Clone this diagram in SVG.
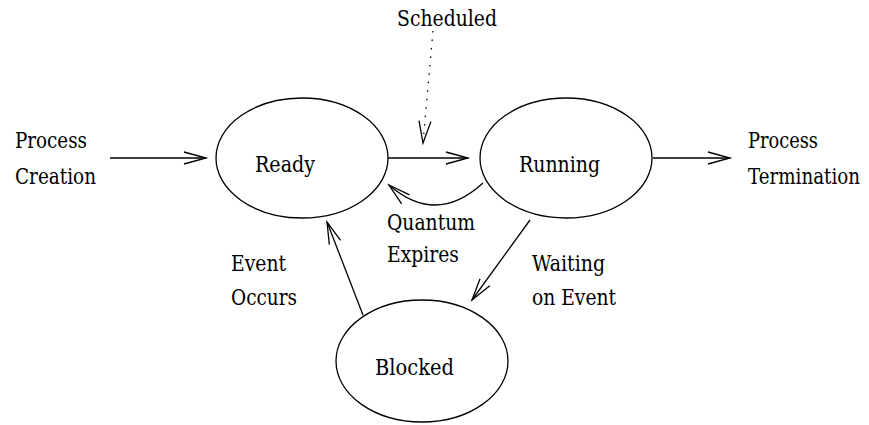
<svg xmlns="http://www.w3.org/2000/svg" width="869" height="425" viewBox="0 0 869 425">
<style>
  .node ellipse { fill: none; stroke: #000; stroke-width: 1.3; }
  .t { font-family: 'DejaVu Serif', 'Liberation Serif', serif; font-size: 22px; fill: #000; }
  .edge { fill: none; stroke: #000; stroke-width: 1.3; }
  .dotted { stroke-dasharray: 1.5 7; }
</style>
<defs>
  <marker id="arrow" markerUnits="userSpaceOnUse" markerWidth="26" markerHeight="16" refX="23" refY="7" orient="auto">
    <path d="M1,1 L23,7 L1,13" fill="none" stroke="#000" stroke-width="1.3"/>
  </marker>
</defs>
<rect width="869" height="425" fill="#fff"/>

<g id="connectors">
  <line class="edge" x1="110" y1="158" x2="206" y2="158" marker-end="url(#arrow)"/>
  <line class="edge" x1="388" y1="158" x2="468" y2="158" marker-end="url(#arrow)"/>
  <line class="edge" x1="653" y1="158" x2="730" y2="158" marker-end="url(#arrow)"/>
  <line class="edge dotted" x1="433" y1="31" x2="423" y2="143" marker-end="url(#arrow)"/>
  <path class="edge" d="M483,183 Q436,226 389,185" marker-end="url(#arrow)"/>
  <line class="edge" x1="530" y1="220" x2="472" y2="300" marker-end="url(#arrow)"/>
  <line class="edge" x1="363" y1="315" x2="327" y2="222" marker-end="url(#arrow)"/>
</g>

<g id="ready" class="node">
  <ellipse cx="302" cy="158" rx="86" ry="60"/>
  <text class="t" x="255" y="172" textLength="60" lengthAdjust="spacingAndGlyphs">Ready</text>
</g>
<g id="running" class="node">
  <ellipse cx="566" cy="158" rx="86" ry="60"/>
  <text class="t" x="519" y="172" textLength="81" lengthAdjust="spacingAndGlyphs">Running</text>
</g>
<g id="blocked" class="node">
  <ellipse cx="422" cy="361" rx="86" ry="61"/>
  <text class="t" x="375" y="375" textLength="79" lengthAdjust="spacingAndGlyphs">Blocked</text>
</g>

<g id="labels">
  <text class="t" x="397" y="26" textLength="100" lengthAdjust="spacingAndGlyphs">Scheduled</text>
  <text class="t" x="15" y="148" textLength="72" lengthAdjust="spacingAndGlyphs">Process</text>
  <text class="t" x="15" y="184" textLength="81" lengthAdjust="spacingAndGlyphs">Creation</text>
  <text class="t" x="748" y="148" textLength="70" lengthAdjust="spacingAndGlyphs">Process</text>
  <text class="t" x="748" y="184" font-size="19" textLength="112" lengthAdjust="spacingAndGlyphs">Termination</text>
  <text class="t" x="387" y="230" textLength="88" lengthAdjust="spacingAndGlyphs">Quantum</text>
  <text class="t" x="387" y="262" textLength="72" lengthAdjust="spacingAndGlyphs">Expires</text>
  <text class="t" x="231" y="271" textLength="55" lengthAdjust="spacingAndGlyphs">Event</text>
  <text class="t" x="231" y="305" textLength="66" lengthAdjust="spacingAndGlyphs">Occurs</text>
  <text class="t" x="532" y="271" textLength="73" lengthAdjust="spacingAndGlyphs">Waiting</text>
  <text class="t" x="532" y="305" textLength="84" lengthAdjust="spacingAndGlyphs">on Event</text>
</g>
</svg>
